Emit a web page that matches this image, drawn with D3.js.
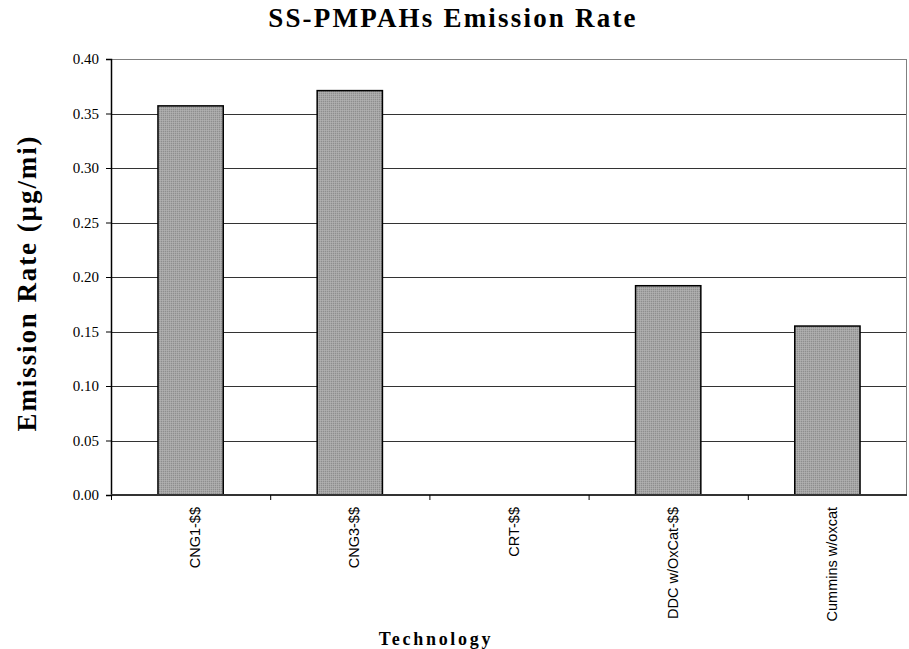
<!DOCTYPE html>
<html>
<head>
<meta charset="utf-8">
<script src="https://cdn.jsdelivr.net/npm/d3@7"></script>
<style>
  body { margin: 0; background: #fff; }
  svg { display: block; }
</style>
</head>
<body>
<div id="chart"></div>
<script>
const categories = ['CNG1-$$', 'CNG3-$$', 'CRT-$$', 'DDC w/OxCat-$$', 'Cummins w/oxcat']
const values = [0.357, 0.371, 0, 0.192, 0.155]
const yTicks = [0, 0.05, 0.1, 0.15, 0.2, 0.25, 0.3, 0.35, 0.4]

const margin = { top: 59, left: 111, right: 2, bottom: 154 }
const width = 909 - margin.left - margin.right
const height = 649 - margin.top - margin.bottom

const serif = 'Liberation Serif, Times New Roman, serif'

const svg = d3
  .select('#chart')
  .append('svg')
  .attr('width', 909)
  .attr('height', 649)

// dotted grey fill like the old excel pattern
const pat = svg
  .append('defs')
  .append('pattern')
  .attr('id', 'dots')
  .attr('width', 2)
  .attr('height', 2)
  .attr('patternUnits', 'userSpaceOnUse')
pat.append('rect').attr('width', 2).attr('height', 2).attr('fill', '#a6a6a6')
pat.append('rect').attr('width', 1).attr('height', 1).attr('fill', '#8e8e8e')
pat.append('rect').attr('x', 1).attr('y', 1).attr('width', 1).attr('height', 1).attr('fill', '#b0b0b0')

const g = svg.append('g').attr('transform', `translate(${margin.left},${margin.top})`)

const x = d3.scaleBand().domain(categories).range([0, width]).paddingInner(0.59).paddingOuter(0.295)
const xb = d3.scaleBand().domain(categories).range([0, width])
const y = d3.scaleLinear().domain([0, 0.4]).range([height, 0])

// gridlines
g.selectAll('.grid')
  .data(yTicks.slice(1))
  .enter()
  .append('line')
  .attr('x1', 0)
  .attr('x2', width)
  .attr('y1', d => Math.round(y(d)) + 0.5)
  .attr('y2', d => Math.round(y(d)) + 0.5)
  .attr('stroke', d => (d === 0.4 ? '#808080' : '#333'))
  .attr('stroke-width', 1)

// right border
g.append('line')
  .attr('x1', width - 0.5)
  .attr('x2', width - 0.5)
  .attr('y1', 0)
  .attr('y2', height)
  .attr('stroke', '#808080')

g.selectAll('.bar')
  .data(values)
  .enter()
  .append('rect')
  .attr('x', (d, i) => x(categories[i]))
  .attr('width', x.bandwidth())
  .attr('y', d => y(d))
  .attr('height', d => height - y(d))
  .attr('fill', 'url(#dots)')
  .attr('stroke', d => (d > 0 ? '#000' : 'none'))
  .attr('stroke-width', 1.5)

// y axis
const yAxis = g
  .append('g')
  .call(
    d3
      .axisLeft(y)
      .tickValues(yTicks)
      .tickSize(5)
      .tickFormat(d3.format('.2f'))
  )
yAxis.select('.domain').attr('stroke', '#000').attr('stroke-width', 1.5)
yAxis.selectAll('.tick line').attr('stroke', '#000')
yAxis
  .selectAll('text')
  .attr('font-family', serif)
  .attr('font-size', 15)
  .attr('fill', '#000')
  .attr('x', -12)

// x axis with ticks between categories
const xAxis = g.append('g').attr('transform', `translate(0,${height})`)
xAxis
  .append('line')
  .attr('x1', 0)
  .attr('x2', width)
  .attr('stroke', '#333')
  .attr('stroke-width', 2)
xAxis
  .selectAll('.xtick')
  .data(categories)
  .enter()
  .append('line')
  .attr('x1', d => xb(d) + 0.5)
  .attr('x2', d => xb(d) + 0.5)
  .attr('y1', 0)
  .attr('y2', 5)
  .attr('stroke', '#000')
xAxis
  .selectAll('.xlabel')
  .data(categories)
  .enter()
  .append('text')
  .text(d => d)
  .attr('transform', d => `translate(${x(d) + x.bandwidth() / 2 + 9.5},12) rotate(-90)`)
  .attr('text-anchor', 'end')
  .attr('font-family', 'Liberation Sans, Arial, sans-serif')
  .attr('font-size', 14.5)

// titles
svg
  .append('text')
  .text('SS-PMPAHs Emission Rate')
  .attr('x', 453)
  .attr('y', 27)
  .attr('text-anchor', 'middle')
  .attr('font-family', serif)
  .attr('font-weight', 'bold')
  .attr('font-size', 27)
  .attr('letter-spacing', 2.2)

svg
  .append('text')
  .text('Emission Rate (µg/mi)')
  .attr('transform', 'translate(36,283) rotate(-90)')
  .attr('text-anchor', 'middle')
  .attr('font-family', serif)
  .attr('font-weight', 'bold')
  .attr('font-size', 27)
  .attr('letter-spacing', 1.9)

svg
  .append('text')
  .text('Technology')
  .attr('x', 436)
  .attr('y', 645)
  .attr('text-anchor', 'middle')
  .attr('font-family', serif)
  .attr('font-weight', 'bold')
  .attr('font-size', 18)
  .attr('letter-spacing', 2.7)
</script>
</body>
</html>
